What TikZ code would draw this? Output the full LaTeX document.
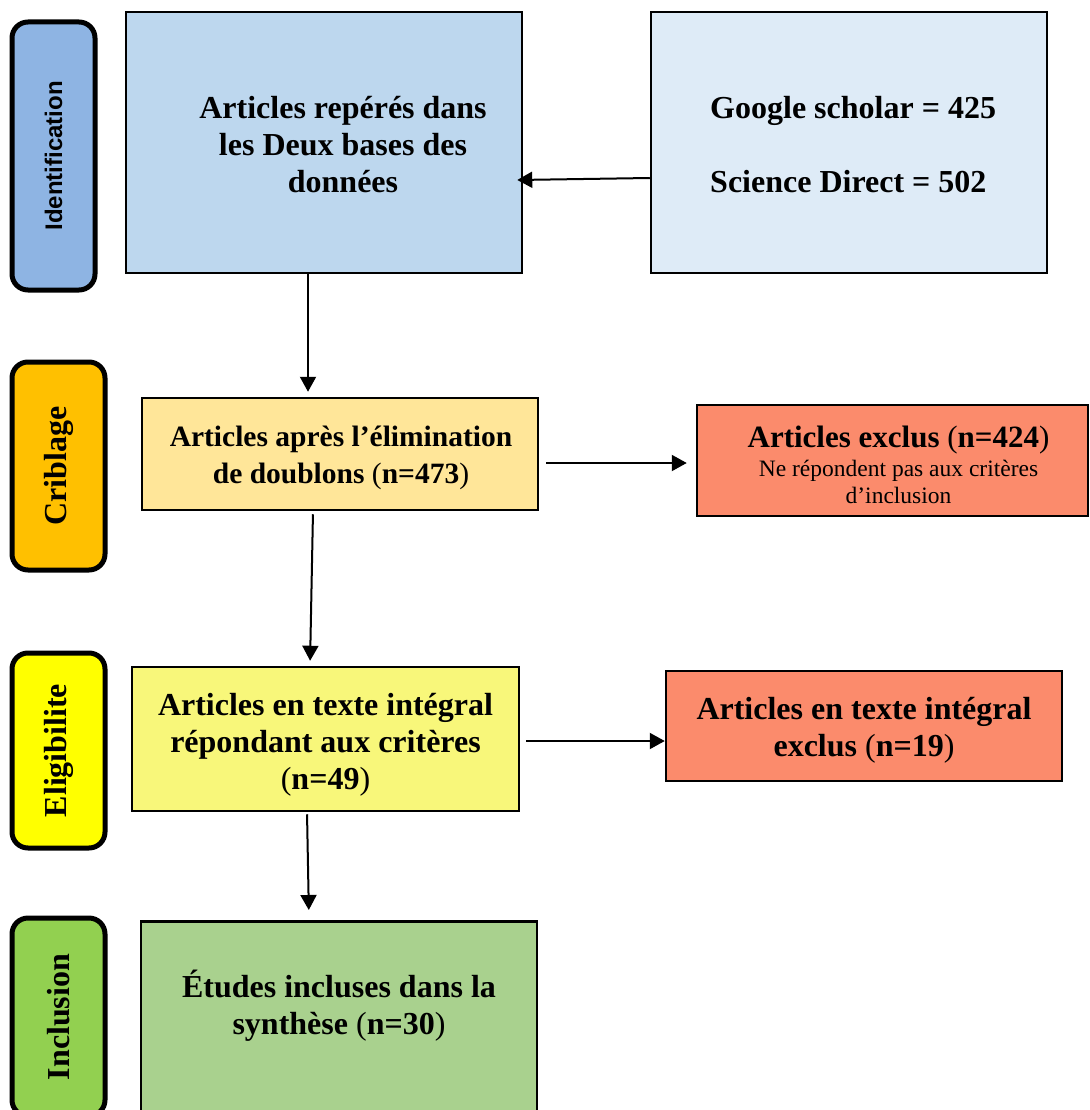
\documentclass[tikz,border=0pt]{standalone}
\usepackage{fontspec}
\setmainfont{Liberation Serif}
\newfontfamily\idfont{Liberation Sans}
\usetikzlibrary{arrows.meta}
\definecolor{idblue}{HTML}{8EB4E3}
\definecolor{crorange}{HTML}{FFC000}
\definecolor{elyellow}{HTML}{FFFF00}
\definecolor{ingreen}{HTML}{92D050}
\definecolor{foundblue}{HTML}{BDD7EE}
\definecolor{srcblue}{HTML}{DEEBF7}
\definecolor{dedupyellow}{HTML}{FFE699}
\definecolor{fullyellow}{HTML}{F8F77A}
\definecolor{exred}{HTML}{FB8B6C}
\definecolor{inclgreen}{HTML}{A9D18E}
\tikzset{
  phase/.style={draw, line width=5pt, rounded corners=16pt, rotate=90, inner sep=0pt,
    font=\bfseries\fontsize{32}{36}\selectfont},
  box/.style={draw, line width=2.5pt, inner sep=0pt},
  txt/.style={align=center, inner sep=0pt, font=\bfseries\fontsize{32}{37}\selectfont},
  arr/.style={line width=2pt, -{Triangle[width=16pt,length=15pt]}},
}
\newcommand{\np}[1]{\textmd{(}#1\textmd{)}}
\begin{document}
\begin{tikzpicture}[x=1pt,y=-1pt]
\useasboundingbox (0,0) rectangle (1089,1110);
\node[phase, fill=idblue, minimum width=268, minimum height=83] (ph1) at (53.5,156)
  {\idfont\fontsize{24}{28}\selectfont Identification};
\node[phase, fill=crorange, minimum width=208, minimum height=93] (ph2) at (58.5,466) {Criblage};
\node[phase, fill=elyellow, minimum width=195, minimum height=93] (ph3) at (58.5,750.5) {Eligibilite};
\node[phase, fill=ingreen, minimum width=198, minimum height=93] (ph4) at (58.5,1017) {Inclusion};

\node[box, fill=foundblue, minimum width=396, minimum height=261] (found) at (324,142.5) {};
\node[txt] (foundtxt) at (343,145) {Articles repérés dans\\les Deux bases des\\données};
\node[box, fill=srcblue, minimum width=396, minimum height=261] (src) at (849,142.5) {};
\node[txt, align=left, anchor=west] (srctxt) at (710,145) {Google scholar = 425\\[37pt]Science Direct = 502};
\node[box, fill=dedupyellow, minimum width=396, minimum height=112] (dedup) at (340,454) {};
\node[txt, font=\bfseries\fontsize{29.5}{37}\selectfont] (deduptxt) at (341,458)
  {Articles après l’élimination\\de doublons \np{n=473}};
\node[box, fill=exred, minimum width=391, minimum height=111] (excl) at (892.5,460.5) {};
\node[txt, font=\fontsize{23.5}{26.5}\selectfont] (excltxt) at (898.5,464.5)
  {{\bfseries\fontsize{31}{37}\selectfont Articles exclus \np{n=424}}\\[3pt]Ne répondent pas aux critères\\d’inclusion};
\node[box, fill=fullyellow, minimum width=387, minimum height=144] (full) at (325.5,739) {};
\node[txt] (fulltxt) at (325.5,745) {Articles en texte intégral\\répondant aux critères\\\np{n=49}};
\node[box, fill=exred, minimum width=396, minimum height=110] (fullex) at (864,726) {};
\node[txt] (fullextxt) at (864,730) {Articles en texte intégral\\exclus \np{n=19}};
\node[box, fill=inclgreen, minimum width=396, minimum height=230, anchor=north] (incl) at (339,920) {};
\node[txt] (incltxt) at (339,1006) {Études incluses dans la\\synthèse \np{n=30}};

\draw[arr] ([yshift=-35.5pt]src.west) -- ([yshift=-37.5pt,xshift=-6pt]found.east);
\draw[arr, shorten >=5pt] ([xshift=-16pt]found.south) -- ([xshift=-32pt]dedup.north);
\draw[arr, shorten <=7pt, shorten >=9pt] ([yshift=-9pt]dedup.east) -- ([yshift=-2.5pt]excl.west);
\draw[arr, shorten <=3pt, shorten >=5pt] ([xshift=-27pt]dedup.south) -- ([xshift=-15.5pt]full.north);
\draw[arr, shorten <=6pt] ([yshift=-2pt]full.east) -- ([yshift=-15pt]fullex.west);
\draw[arr, shorten <=2pt, shorten >=10pt] ([xshift=-18.5pt]full.south) -- ([xshift=-30pt]incl.north);
\end{tikzpicture}
\end{document}
